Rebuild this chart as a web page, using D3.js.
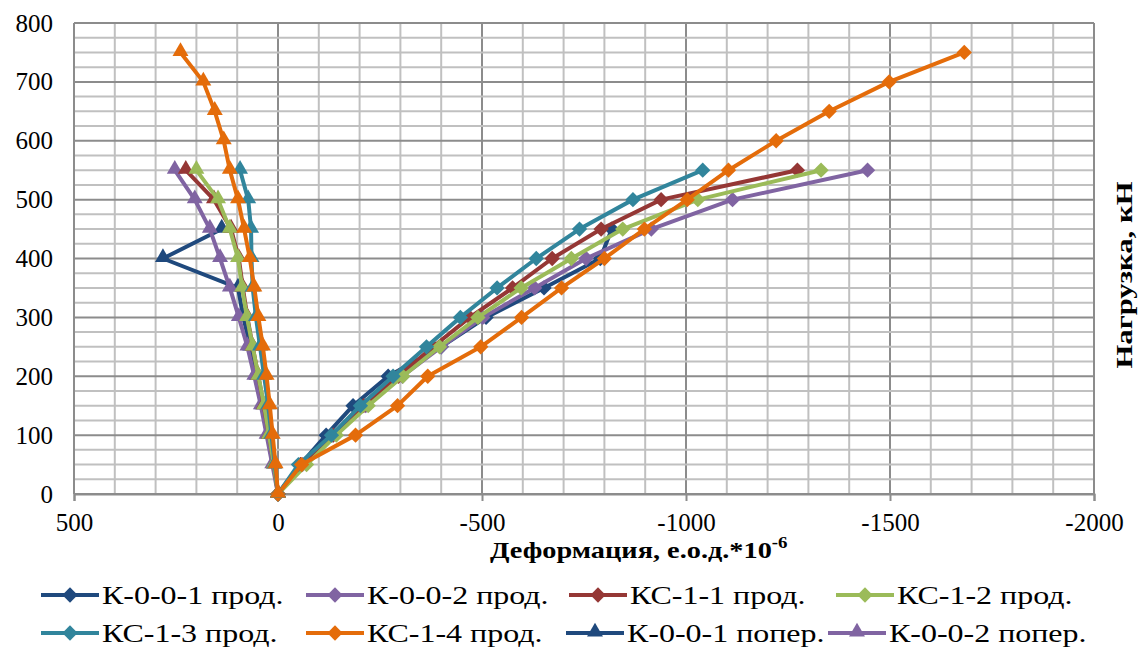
<!DOCTYPE html>
<html><head><meta charset="utf-8">
<script src="https://cdn.jsdelivr.net/npm/d3@7"></script>
<style>
body{margin:0;background:#fff;}
text{font-family:"Liberation Serif","Times New Roman","Tinos","Noto Serif","DejaVu Serif","FreeSerif","Noto Serif CJK SC",serif !important;}
</style></head>
<body><svg id="c" width="1141" height="650"></svg>
<script>
// ---- data ----
const loads = [0,50,100,150,200,250,300,350,400,450,500,550];
const loadsK001 = [0,50,100,150,200,250,300,350,400,450];
const loadsLong = [0,50,100,150,200,250,300,350,400,450,500,550,600,650,700,750];

const K001prod = [0,-55,-118,-184,-270,-400,-510,-652,-790,-818];
const K002prod = [0,-60,-135,-215,-305,-400,-502,-629,-755,-915,-1114,-1445];
const KC11prod = [0,-55,-135,-210,-295,-380,-470,-575,-672,-792,-939,-1273];
const KC12prod = [0,-70,-143,-221,-306,-396,-490,-596,-719,-845,-1029,-1331];
const KC13prod = [0,-50,-131,-202,-282,-364,-447,-537,-633,-739,-870,-1041];
const KC14prod = [0,-58,-190,-293,-367,-497,-597,-695,-800,-898,-1003,-1104,-1221,-1351,-1498,-1682];

const K001pop = [0,10,24,38,52,68,85,98,282,138];
const K002pop = [0,14,28,42,58,75,96,118,142,167,204,253];
const KC11pop = [0,10,22,35,48,62,75,86,96,115,157,226];
const KC12pop = [0,10,22,34,48,62,76,88,98,118,147,200];
const KC13pop = [0,8,16,24,34,44,54,62,65,66,73,93];
const KC14pop = [0,6,13,20,28,37,48,58,69,83,98,118,133,155,183,239];

const xTicks = [500,0,-500,-1000,-1500,-2000];
const yTicks = [0,100,200,300,400,500,600,700,800];

const series = [
  {name:"К-0-0-1 прод.", x:K001prod, y:loadsK001, color:"#1F497D", marker:"diamond", legend:true},
  {name:"К-0-0-2 прод.", x:K002prod, y:loads, color:"#8064A2", marker:"diamond", legend:true},
  {name:"КС-1-1 прод.", x:KC11prod, y:loads, color:"#953735", marker:"diamond", legend:true},
  {name:"КС-1-2 прод.", x:KC12prod, y:loads, color:"#9BBB59", marker:"diamond", legend:true},
  {name:"КС-1-3 прод.", x:KC13prod, y:loads, color:"#31859C", marker:"diamond", legend:true},
  {name:"КС-1-4 прод.", x:KC14prod, y:loadsLong, color:"#E46C0A", marker:"diamond", legend:true},
  {name:"К-0-0-1 попер.", x:K001pop, y:loadsK001, color:"#1F497D", marker:"triangle", legend:true},
  {name:"К-0-0-2 попер.", x:K002pop, y:loads, color:"#8064A2", marker:"triangle", legend:true},
  {name:"КС-1-1 попер.", x:KC11pop, y:loads, color:"#953735", marker:"triangle", legend:false},
  {name:"КС-1-2 попер.", x:KC12pop, y:loads, color:"#9BBB59", marker:"triangle", legend:false},
  {name:"КС-1-3 попер.", x:KC13pop, y:loads, color:"#31859C", marker:"triangle", legend:false},
  {name:"КС-1-4 попер.", x:KC14pop, y:loadsLong, color:"#E46C0A", marker:"triangle", legend:false}
];

// ---- layout ----
const L = 74, R = 1094, T = 23, B = 494;
const svg = d3.select("#c");
const x = d3.scaleLinear().domain([500,-2000]).range([L,R]);
const y = d3.scaleLinear().domain([0,800]).range([B,T]);

// grid
const g = svg.append("g");
d3.range(500,-2001,-100).forEach(v=>{
  const major = v % 500 === 0;
  g.append("line").attr("x1",x(v)).attr("x2",x(v)).attr("y1",T).attr("y2",B)
    .attr("stroke", major ? "#8c8c8c" : "#c0c0c0").attr("stroke-width",2);
});
d3.range(0,801,25).forEach(v=>{
  const major = v % 100 === 0;
  g.append("line").attr("x1",L).attr("x2",R).attr("y1",y(v)).attr("y2",y(v))
    .attr("stroke", major ? "#8c8c8c" : "#c0c0c0").attr("stroke-width",2);
});
g.append("line").attr("x1",L).attr("x2",L).attr("y1",T).attr("y2",B).attr("stroke","#8c8c8c").attr("stroke-width",2);
g.append("line").attr("x1",R).attr("x2",R).attr("y1",T).attr("y2",B).attr("stroke","#8c8c8c").attr("stroke-width",2);

// axes
const xAxis = d3.axisBottom(x).tickValues(xTicks).tickSize(7).tickPadding(12).tickFormat(d=>String(d));
const xa = svg.append("g").attr("transform",`translate(0,${B})`).call(xAxis);
xa.attr("font-family",null);
xa.select(".domain").attr("stroke","#8c8c8c").attr("stroke-width",2);
xa.selectAll(".tick line").attr("stroke","#8c8c8c").attr("stroke-width",2);
xa.selectAll("text").attr("font-size",25).attr("fill","#000");

const yAxis = d3.axisLeft(y).tickValues(yTicks).tickSize(0).tickPadding(21).tickFormat(d=>String(d));
const ya = svg.append("g").attr("transform",`translate(${L},0)`).call(yAxis);
ya.attr("font-family",null);
ya.select(".domain").remove();
ya.selectAll("text").attr("font-size",25).attr("fill","#000");

// axis titles
const xt = svg.append("text").attr("transform","translate(490,558) scale(1.18,1)")
  .attr("font-size",24).attr("font-weight","bold").attr("fill","#000").text("Деформация, е.о.д.*10");
xt.append("tspan").attr("dy",-10).attr("font-size",16).text("-6");
svg.append("text").attr("transform","translate(1132,275) rotate(-90) scale(1.28,1)").attr("text-anchor","middle")
  .attr("font-size",24).attr("font-weight","bold").attr("fill","#000").text("Нагрузка, кН");

// markers
const diamond = d3.symbol().type(d3.symbolDiamond2).size(150)();
const triangle = d3.symbol().type(d3.symbolTriangle).size(110)();
function drawMarker(sel, s){
  if(s.marker==="diamond"){
    sel.append("path").attr("d",diamond).attr("fill",s.color);
  } else {
    sel.append("path").attr("d",triangle).attr("fill",s.color).attr("transform","translate(0,-1)");
  }
}

// series
const line = d3.line().x(d=>x(d[0])).y(d=>y(d[1]));
series.forEach(s=>{
  const pts = s.x.map((v,i)=>[v, s.y[i]]);
  const sg = svg.append("g");
  sg.append("path").attr("d",line(pts)).attr("fill","none").attr("stroke",s.color)
    .attr("stroke-width",4).attr("stroke-linejoin","round");
  pts.forEach(p=>{
    const m = sg.append("g").attr("transform",`translate(${x(p[0])},${y(p[1])})`);
    drawMarker(m,s);
  });
});

// legend
const legendPos = [[41,595],[306,595],[569,595],[836,595],[41,633],[306,633],[566,633],[828,633]];
series.filter(s=>s.legend).forEach((s,i)=>{
  const [lx,ly] = legendPos[i];
  const lg = svg.append("g").attr("transform",`translate(${lx},${ly})`);
  lg.append("line").attr("x1",0).attr("x2",58).attr("y1",0).attr("y2",0).attr("stroke",s.color).attr("stroke-width",4);
  const m = lg.append("g").attr("transform","translate(29,0)");
  drawMarker(m,s);
  lg.append("text").attr("transform","translate(61,9) scale(1.23,1)").attr("font-size",26).attr("fill","#000").text(s.name);
});
</script></body></html>
